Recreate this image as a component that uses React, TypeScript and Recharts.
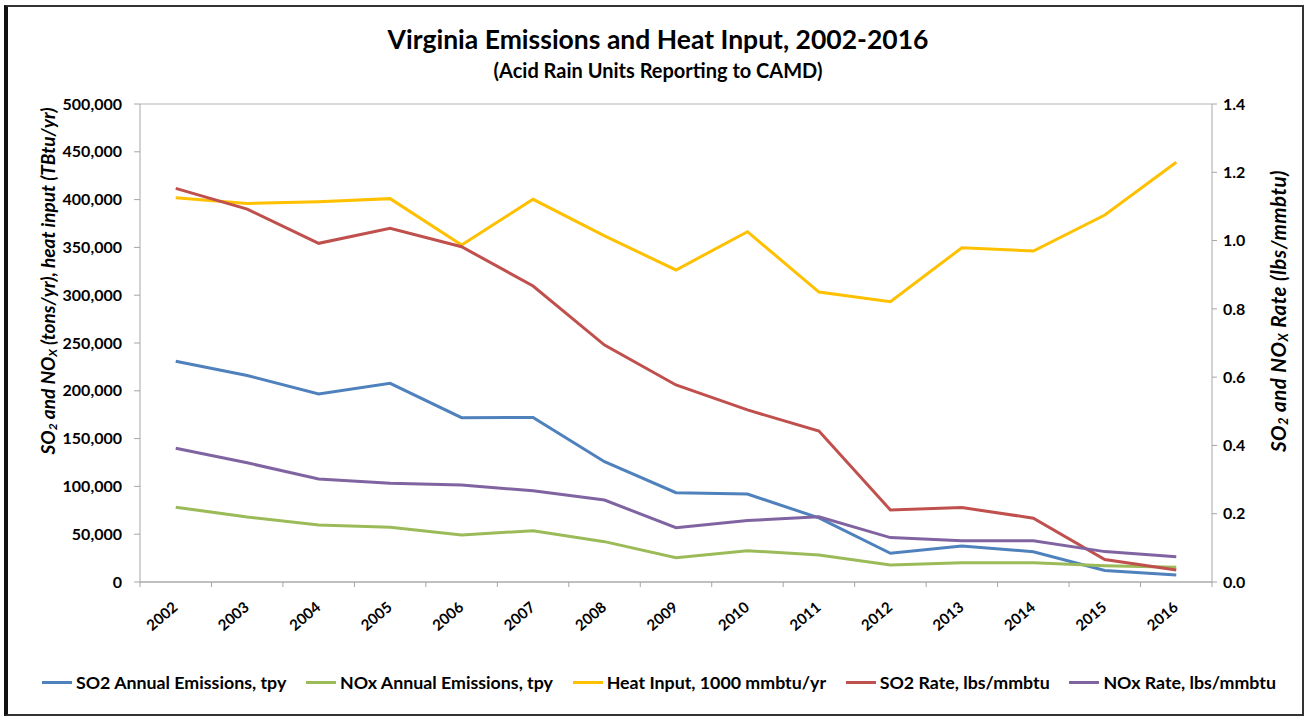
import React from "react";
import { LineChart, Line, XAxis, YAxis, CartesianGrid, Label } from "recharts";

// categories and series
const years = ["2002", "2003", "2004", "2005", "2006", "2007", "2008", "2009", "2010", "2011", "2012", "2013", "2014", "2015", "2016"];
const so2Emissions = [231000, 216000, 196600, 207800, 171900, 172200, 125800, 93400, 92000, 67000, 30000, 37700, 31700, 12000, 7300];
const noxEmissions = [78300, 68000, 59600, 57200, 49200, 53700, 42200, 25400, 32700, 28200, 17800, 20200, 20200, 17000, 15400];
const heatInput = [402000, 396000, 397800, 401000, 352500, 400300, 362000, 326400, 366400, 303300, 293200, 349700, 346200, 383900, 439000];
const so2Rate = [1.153, 1.092, 0.992, 1.036, 0.982, 0.867, 0.694, 0.577, 0.504, 0.442, 0.211, 0.218, 0.187, 0.066, 0.035];
const noxRate = [0.392, 0.349, 0.302, 0.289, 0.284, 0.267, 0.24, 0.159, 0.18, 0.191, 0.13, 0.121, 0.121, 0.089, 0.074];

const leftTicks = [0, 50000, 100000, 150000, 200000, 250000, 300000, 350000, 400000, 450000, 500000];
const rightTicks = [0, 0.2, 0.4, 0.6, 0.8, 1.0, 1.2, 1.4];

const series = [
  { key: "so2", name: "SO2 Annual Emissions, tpy", color: "#4f81bd", axis: "left" },
  { key: "nox", name: "NOx Annual Emissions, tpy", color: "#9bbb59", axis: "left" },
  { key: "heat", name: "Heat Input, 1000 mmbtu/yr", color: "#ffc000", axis: "left" },
  { key: "so2Rate", name: "SO2 Rate, lbs/mmbtu", color: "#c0504d", axis: "right" },
  { key: "noxRate", name: "NOx Rate, lbs/mmbtu", color: "#8064a2", axis: "right" },
];

const data = years.map((year, i) => ({
  year,
  so2: so2Emissions[i],
  nox: noxEmissions[i],
  heat: heatInput[i],
  so2Rate: so2Rate[i],
  noxRate: noxRate[i],
}));

const FONT = "Lato, 'Open Sans', sans-serif";
const AXIS_GRAY = "#a6a6a6";

// x tick: boundary tick mark (Excel style, between categories) + rotated label
const YearTick = (props: any) => {
  const { x, y, payload, index } = props;
  const off = payload && payload.offset != null ? payload.offset : 35.7;
  return (
    <g>
      <line x1={x - off} x2={x - off} y1={y} y2={y + 5} stroke={AXIS_GRAY} />
      {index === years.length - 1 && (
        <line x1={x + off} x2={x + off} y1={y} y2={y + 5} stroke={AXIS_GRAY} />
      )}
      <text
        x={x + 3}
        y={y + 27}
        textAnchor="end"
        transform={`rotate(-40 ${x + 3} ${y + 27})`}
        fontFamily={FONT}
        fontWeight="bold"
        fontSize={15}
        fill="#000"
      >
        {payload.value}
      </text>
    </g>
  );
};

const LeftAxisLabel = (props: any) => {
  const vb = props.viewBox || { x: 80, y: 104, width: 60, height: 478 };
  const cx = vb.x - 33;
  const cy = vb.y + vb.height / 2 - 62;
  return (
    <text
      x={cx}
      y={cy}
      transform={`rotate(-90 ${cx} ${cy})`}
      textAnchor="middle"
      dominantBaseline="central"
      fontFamily={FONT}
      fontWeight="bold"
      fontStyle="italic"
      fontSize={19}
      fill="#000"
    >
      SO<tspan fontSize={12} dy={5}>2</tspan>
      <tspan dy={-5}> and NO</tspan>
      <tspan fontSize={12} dy={5}>X</tspan>
      <tspan dy={-5}> (tons/yr), heat input (TBtu/yr)</tspan>
    </text>
  );
};

const RightAxisLabel = (props: any) => {
  const vb = props.viewBox || { x: 1212, y: 104, width: 60, height: 478 };
  const cx = vb.x + 66;
  const cy = vb.y + vb.height / 2 - 32;
  return (
    <text
      x={cx}
      y={cy}
      transform={`rotate(-90 ${cx} ${cy})`}
      textAnchor="middle"
      dominantBaseline="central"
      fontFamily={FONT}
      fontWeight="bold"
      fontStyle="italic"
      fontSize={20.5}
      letterSpacing={0.5}
      fill="#000"
    >
      SO<tspan fontSize={13} dy={5}>2</tspan>
      <tspan dy={-5}> and NO</tspan>
      <tspan fontSize={13} dy={5}>X</tspan>
      <tspan dy={-5}> Rate (lbs/mmbtu)</tspan>
    </text>
  );
};

export default function App() {
  return (
    <div style={{ position: "absolute", left: 0, top: 0, width: 1306, height: 721, background: "#fff", fontFamily: FONT }}>
      {/* outer frame */}
      <div
        style={{
          position: "absolute",
          left: 4,
          top: 5,
          width: 1300,
          height: 711,
          boxSizing: "border-box",
          borderTop: "2px solid #333",
          borderRight: "2px solid #333",
          borderBottom: "2px solid #333",
          borderLeft: "4px solid #111",
        }}
      />
      <div style={{ position: "absolute", left: 0, top: 23, width: 1316, textAlign: "center", fontSize: 26.5, fontWeight: "bold", color: "#000", lineHeight: "32px" }}>
        Virginia Emissions and Heat Input, 2002-2016
      </div>
      <div style={{ position: "absolute", left: 0, top: 58, width: 1316, textAlign: "center", fontSize: 20, fontWeight: "bold", color: "#000", lineHeight: "24px" }}>
        (Acid Rain Units Reporting to CAMD)
      </div>

      <div style={{ position: "absolute", left: 0, top: 0 }}>
        <LineChart width={1306} height={721} data={data} margin={{ top: 104, right: 34, bottom: 79, left: 80 }}>
          <CartesianGrid vertical={false} stroke="#cccccc" strokeWidth={1.5} />
          <XAxis
            dataKey="year"
            scale="band"
            height={60}
            stroke={AXIS_GRAY}
            tickLine={false}
            tickSize={0}
            tickMargin={0}
            interval={0}
            tick={<YearTick />}
          />
          <YAxis
            yAxisId="left"
            orientation="left"
            width={60}
            domain={[0, 500000]}
            ticks={leftTicks}
            interval={0}
            stroke={AXIS_GRAY}
            tickSize={6}
            tickMargin={12}
            tick={{ fontFamily: FONT, fontWeight: "bold", fontSize: 16, fill: "#000" }}
            tickFormatter={(v: number) => v.toLocaleString("en-US")}
          >
            <Label content={<LeftAxisLabel />} />
          </YAxis>
          <YAxis
            yAxisId="right"
            orientation="right"
            width={60}
            domain={[0, 1.4]}
            ticks={rightTicks}
            interval={0}
            stroke={AXIS_GRAY}
            tickSize={5}
            tickMargin={6}
            tick={{ fontFamily: FONT, fontWeight: "bold", fontSize: 16, fill: "#000" }}
            tickFormatter={(v: number) => v.toFixed(1)}
          >
            <Label content={<RightAxisLabel />} />
          </YAxis>
          {series.map((s) => (
            <Line
              key={s.key}
              yAxisId={s.axis}
              type="linear"
              dataKey={s.key}
              name={s.name}
              stroke={s.color}
              strokeWidth={3}
              dot={false}
              activeDot={false}
              isAnimationActive={false}
            />
          ))}
        </LineChart>
      </div>

      {/* legend */}
      <div
        style={{
          position: "absolute",
          left: 42,
          top: 671,
          width: 1234,
          display: "flex",
          justifyContent: "space-between",
          alignItems: "center",
          fontSize: 17.8,
          fontWeight: "bold",
          color: "#000",
        }}
      >
        {series.map((s) => (
          <div key={s.key} style={{ display: "flex", alignItems: "center" }}>
            <span style={{ display: "inline-block", width: 30, height: 3, background: s.color, marginRight: 4 }} />
            <span>{s.name}</span>
          </div>
        ))}
      </div>
    </div>
  );
}
